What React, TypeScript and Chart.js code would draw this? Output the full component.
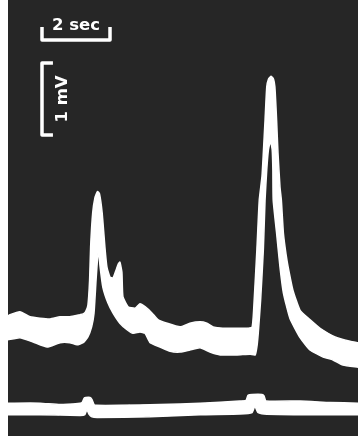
import { useEffect, useRef } from "react";
import { Chart, registerables } from "chart.js";

Chart.register(...registerables);

// time in seconds, potential in mV
const TIME_RANGE = [0, 10.294];
const MV_RANGE = [-1.556, 4.5];

// main recording: upper edge of the bright trace
const MAIN_UPPER: [number, number][] = [
  [0, 0.11], [0.06, 0.13], [0.35, 0.17], [0.65, 0.1], [0.94, 0.08], [1.24, 0.07],
  [1.53, 0.1], [1.82, 0.1], [2.12, 0.13], [2.21, 0.14], [2.28, 0.17], [2.35, 0.26],
  [2.4, 0.61], [2.43, 1.07], [2.49, 1.54], [2.56, 1.76], [2.63, 1.84], [2.69, 1.81],
  [2.77, 1.54], [2.85, 1.07], [2.91, 0.79], [3.0, 0.65], [3.09, 0.64], [3.18, 0.75],
  [3.24, 0.83], [3.29, 0.86], [3.35, 0.72], [3.38, 0.38], [3.53, 0.24], [3.74, 0.22],
  [3.88, 0.28], [4.03, 0.24], [4.24, 0.15], [4.41, 0.06], [4.68, 0.01], [5.06, -0.04],
  [5.35, 0.01], [5.65, 0.03], [5.85, 0.01], [6.03, -0.04], [6.32, -0.06], [6.74, -0.06],
  [7.0, -0.06], [7.18, -0.04], [7.24, 0.33], [7.32, 1.03], [7.39, 1.72], [7.47, 2.05],
  [7.51, 2.38], [7.56, 2.83], [7.61, 3.29], [7.66, 3.4], [7.74, 3.44], [7.81, 3.4],
  [7.85, 3.29], [7.9, 2.83], [7.94, 2.38], [8.0, 1.9], [8.04, 1.72], [8.1, 1.26],
  [8.18, 0.96], [8.24, 0.79], [8.38, 0.47], [8.59, 0.19], [8.88, 0.06], [9.18, -0.06],
  [9.62, -0.18], [10.06, -0.24], [10.294, -0.26],
];

// main recording: lower edge of the bright trace
const MAIN_LOWER: [number, number][] = [
  [0, -0.22], [0.35, -0.19], [0.74, -0.25], [1.15, -0.32], [1.53, -0.26], [1.82, -0.26],
  [2.03, -0.29], [2.21, -0.26], [2.35, -0.18], [2.46, -0.04], [2.53, 0.15], [2.59, 0.61],
  [2.63, 0.89], [2.66, 1.03], [2.71, 0.79], [2.79, 0.51], [2.94, 0.29], [3.09, 0.15],
  [3.29, 0.01], [3.5, -0.08], [3.68, -0.13], [3.88, -0.11], [4.03, -0.13], [4.18, -0.26],
  [4.47, -0.32], [4.77, -0.38], [5.06, -0.39], [5.35, -0.36], [5.65, -0.33], [5.94, -0.39],
  [6.24, -0.43], [6.74, -0.43], [7.12, -0.42], [7.27, -0.43], [7.32, -0.32], [7.36, -0.13],
  [7.43, 0.33], [7.51, 1.03], [7.56, 1.72], [7.61, 2.14], [7.66, 2.42], [7.72, 2.54],
  [7.77, 2.42], [7.79, 2.14], [7.8, 1.72], [7.9, 1.26], [8.0, 0.79], [8.1, 0.43],
  [8.29, 0.08], [8.59, -0.19], [8.88, -0.36], [9.27, -0.46], [9.56, -0.5], [9.85, -0.57],
  [10.294, -0.6],
];

// marker channel (bottom trace): upper and lower edges
const MARKER_UPPER: [number, number][] = [
  [0, -1.1], [0.94, -1.1], [1.53, -1.12], [2.12, -1.1], [2.18, -1.09], [2.24, -1.03],
  [2.29, -1.02], [2.41, -1.02], [2.47, -1.05], [2.53, -1.12], [2.59, -1.13], [3.29, -1.13],
  [4.47, -1.12], [5.65, -1.1], [6.82, -1.07], [7.0, -1.06], [7.06, -0.99], [7.18, -0.98],
  [7.47, -0.98], [7.53, -1.0], [7.59, -1.07], [8.59, -1.07], [9.47, -1.09], [10.294, -1.1],
];
const MARKER_LOWER: [number, number][] = [
  [0, -1.26], [0.94, -1.26], [2.12, -1.27], [2.26, -1.26], [2.32, -1.19], [2.38, -1.25],
  [2.47, -1.29], [2.62, -1.3], [4.18, -1.29], [5.65, -1.26], [6.82, -1.25], [7.18, -1.23],
  [7.26, -1.14], [7.35, -1.23], [7.53, -1.25], [8.59, -1.26], [10.294, -1.26],
];

// calibration bars
const TIME_BAR: [number, number][] = [[1.0, 4.1], [1.0, 3.944], [3.0, 3.944], [3.0, 4.1]];
const VOLT_BAR: [number, number][] = [[1.27, 3.625], [1.0, 3.625], [1.0, 2.625], [1.27, 2.625]];
const BAR_LABELS = ["2 sec", "1 mV"];
const LABEL_POS: [number, number][] = [[2.0, 4.14], [1.62, 3.125]];

const toPts = (a: [number, number][]) => a.map(([x, y]) => ({ x, y }));

export default function App() {
  const ref = useRef<HTMLCanvasElement | null>(null);

  useEffect(() => {
    if (!ref.current) return;
    const textPlugin = {
      id: "calText",
      afterDatasetsDraw(chart: any) {
        const { ctx, scales } = chart;
        ctx.save();
        ctx.fillStyle = "#ffffff";
        ctx.font = "bold 16.5px 'DejaVu Sans', sans-serif";
        ctx.textAlign = "center";
        ctx.textBaseline = "middle";
        const [tx, ty] = LABEL_POS[0];
        ctx.fillText(BAR_LABELS[0], scales.x.getPixelForValue(tx), scales.y.getPixelForValue(ty));
        const [vx, vy] = LABEL_POS[1];
        ctx.translate(scales.x.getPixelForValue(vx), scales.y.getPixelForValue(vy));
        ctx.rotate(-Math.PI / 2);
        ctx.fillText(BAR_LABELS[1], 0, 0);
        ctx.restore();
      },
    };

    const band = (data: [number, number][], fill: any) => ({
      data: toPts(data),
      borderColor: "#ffffff",
      backgroundColor: "#ffffff",
      borderWidth: 1.5,
      pointRadius: 0,
      tension: 0.15,
      fill,
    });
    const bar = (data: [number, number][]) => ({
      data: toPts(data),
      borderColor: "#ffffff",
      borderWidth: 3.5,
      pointRadius: 0,
      tension: 0,
      fill: false,
      borderCapStyle: "square" as const,
      borderJoinStyle: "round" as const,
    });

    const chart = new Chart(ref.current, {
      type: "line",
      data: {
        datasets: [
          band(MAIN_UPPER, "+1"),
          band(MAIN_LOWER, false),
          band(MARKER_UPPER, "+1"),
          band(MARKER_LOWER, false),
          bar(TIME_BAR),
          bar(VOLT_BAR),
        ] as any,
      },
      options: {
        animation: false,
        responsive: false,
        maintainAspectRatio: false,
        layout: { padding: 0 },
        plugins: { legend: { display: false }, tooltip: { enabled: false } },
        scales: {
          x: { type: "linear", min: TIME_RANGE[0], max: TIME_RANGE[1], display: false },
          y: { type: "linear", min: MV_RANGE[0], max: MV_RANGE[1], display: false },
        },
      },
      plugins: [textPlugin],
    });
    return () => chart.destroy();
  }, []);

  return (
    <div style={{ position: "absolute", left: 8, top: 0, width: 350, height: 436 }}>
      <canvas
        ref={ref}
        width={350}
        height={436}
        style={{ display: "block", width: 350, height: 436, background: "#262626" }}
      />
    </div>
  );
}
